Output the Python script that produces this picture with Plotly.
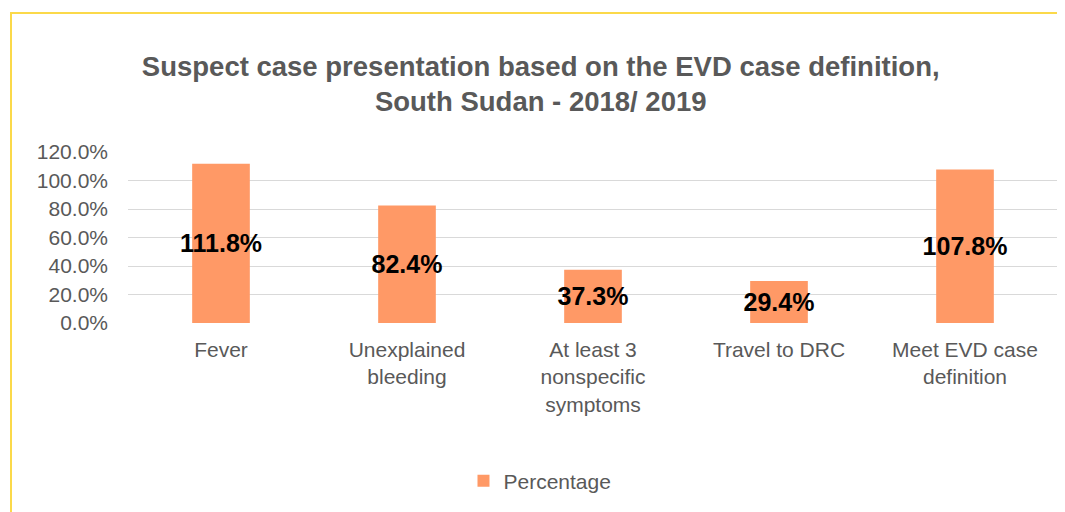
import plotly.graph_objects as go

categories = ["Fever", "Unexplained<br>bleeding", "At least 3<br>nonspecific<br>symptoms",
              "Travel to DRC", "Meet EVD case<br>definition"]
percentage = [111.8, 82.4, 37.3, 29.4, 107.8]
y_ticks = [0, 20, 40, 60, 80, 100, 120]
y_tick_labels = ["0.0%", "20.0%", "40.0%", "60.0%", "80.0%", "100.0%", "120.0%"]

gray = "#595959"

fig = go.Figure()
fig.add_trace(go.Bar(
    x=categories, y=percentage, name="Percentage",
    marker=dict(color="#FF9966", line=dict(width=0)),
    text=[f"{v:.1f}%" for v in percentage],
    textposition="inside", insidetextanchor="middle", constraintext="none",
    textangle=0,
    textfont=dict(family="Liberation Sans", size=25, color="black", weight="bold"),
))

fig.update_layout(
    width=1057, height=504,
    margin=dict(l=120, r=7, t=144, b=189, autoexpand=False),
    paper_bgcolor="white", plot_bgcolor="white",
    font=dict(family="Liberation Sans", color=gray),
    title=dict(text="<b>Suspect case presentation based on the EVD case definition,<br>South Sudan - 2018/ 2019</b>",
               x=0.504, xanchor="center", y=0.866, yanchor="middle",
               font=dict(size=27.5, color=gray)),
    bargap=0.69,
    showlegend=True,
    legend=dict(orientation="h", x=0.443, xanchor="center", y=-0.924, yanchor="middle",
                font=dict(size=21, color=gray)),
    xaxis=dict(tickfont=dict(size=21, color=gray), showgrid=False, ticks="", showline=False,
               ticklabelstandoff=12),
    yaxis=dict(range=[0, 120], tickvals=y_ticks, ticktext=y_tick_labels,
               tickfont=dict(size=21, color=gray), gridcolor="#d9d9d9", gridwidth=1,
               zeroline=False, showline=False, ticks="", ticklen=0, ticklabelstandoff=19),
)

# partially visible chart frame
fig.add_shape(type="rect", xref="paper", yref="paper",
              x0=-0.1258, x1=1.2, y0=-2, y1=1.813,
              line=dict(color="#FBD94A", width=2), fillcolor="rgba(0,0,0,0)", layer="below")

fig.write_html("out.html")
